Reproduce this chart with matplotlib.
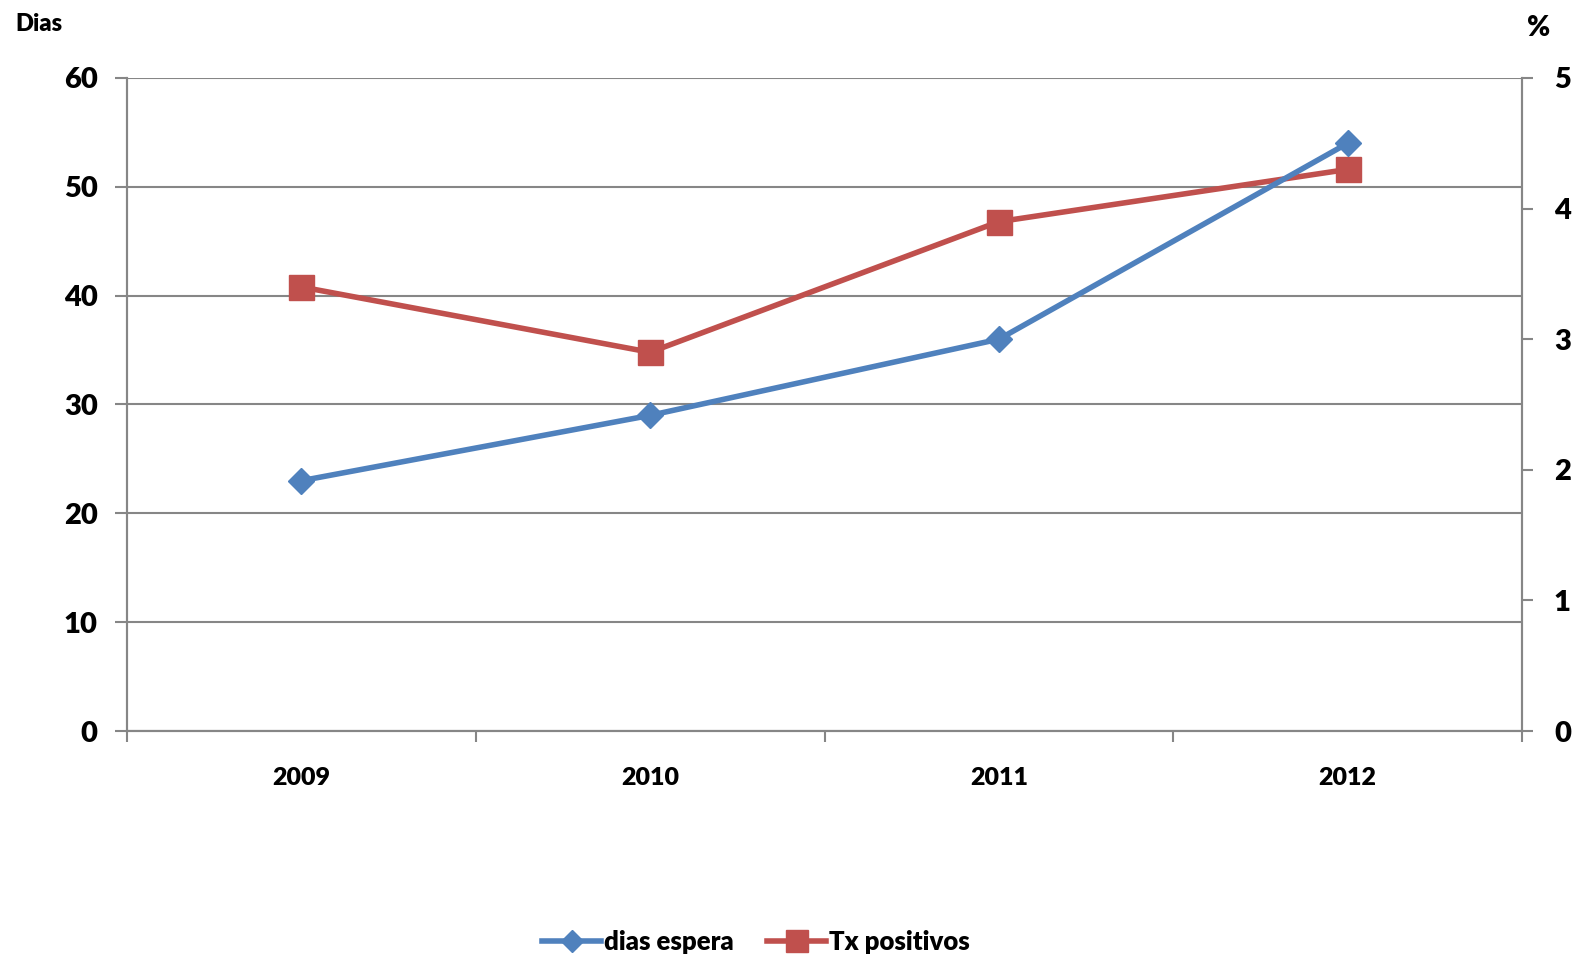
import matplotlib.pyplot as plt

years = ["2009", "2010", "2011", "2012"]
dias_espera = [23, 29, 36, 54]
tx_positivos = [3.4, 2.9, 3.9, 4.3]

blue = "#4F81BD"
red = "#C0504D"
grey = "#868686"
W = "heavy"

plt.rcParams["font.family"] = ["Lato", "DejaVu Sans"]
plt.rcParams["font.weight"] = W

fig = plt.figure(figsize=(15.74, 9.63), dpi=100)
pos = [127 / 1574, 1 - 731 / 963, (1522 - 127) / 1574, (731 - 78) / 963]
ax = fig.add_axes(pos)
ax2 = ax.twinx()
# overlay sharing the left scale so the blue series sits above the red one
ax3 = fig.add_axes(pos, sharex=ax, sharey=ax)
ax3.axis("off")

x = list(range(len(years)))
l2, = ax2.plot(x, tx_positivos, color=red, lw=4, marker="s", ms=18,
               markerfacecolor=red, markeredgecolor=red, zorder=3)
l1, = ax3.plot(x, dias_espera, color=blue, lw=4, marker="D", ms=13.5,
               markerfacecolor=blue, markeredgecolor=blue, zorder=3)

ax.set_xlim(-0.5, 3.5)
ax.set_ylim(0, 60)
ax2.set_ylim(0, 5)
ax.set_yticks(range(0, 61, 10))
ax2.set_yticks(range(0, 6))

# category boundaries get the tick marks, labels sit between them
ax.set_xticks([-0.5, 0.5, 1.5, 2.5, 3.5])
ax.set_xticklabels([])
ax.set_xticks(x, minor=True)
ax.set_xticklabels(years, minor=True, fontsize=18, fontweight=W)
ax.tick_params(axis="x", which="minor", length=0, pad=26)
ax.tick_params(axis="x", which="major", length=8, width=1.5, color=grey, direction="out")

ax.tick_params(axis="y", length=9, width=1.5, color=grey, pad=12, labelsize=21)
ax2.tick_params(axis="y", which="major", length=8, width=1.5, color=grey,
                pad=15, labelsize=21)
for t in ax.get_yticklabels() + ax2.get_yticklabels():
    t.set_fontweight(W)

ax.grid(axis="y", color=grey, lw=1.5)
ax.set_axisbelow(True)

for a in (ax, ax2):
    a.spines["top"].set_visible(False)
    for s in ("left", "right", "bottom"):
        a.spines[s].set_color(grey)
        a.spines[s].set_linewidth(1.5)

fig.text(15 / 1574, 1 - 24 / 963, "Dias", fontsize=17, fontweight=W, va="center")
fig.text(1527 / 1574, 1 - 28 / 963, "%", fontsize=20, fontweight=W, va="center")

fig.legend([l1, l2], ["dias espera", "Tx positivos"], loc="center",
           bbox_to_anchor=(756 / 1574, 1 - 942 / 963), ncol=2, frameon=False,
           prop={"size": 18.5, "weight": W}, handlelength=2.3,
           handletextpad=0.1, columnspacing=1.3, markerscale=0.85)

fig.savefig("out.png", dpi=100)
